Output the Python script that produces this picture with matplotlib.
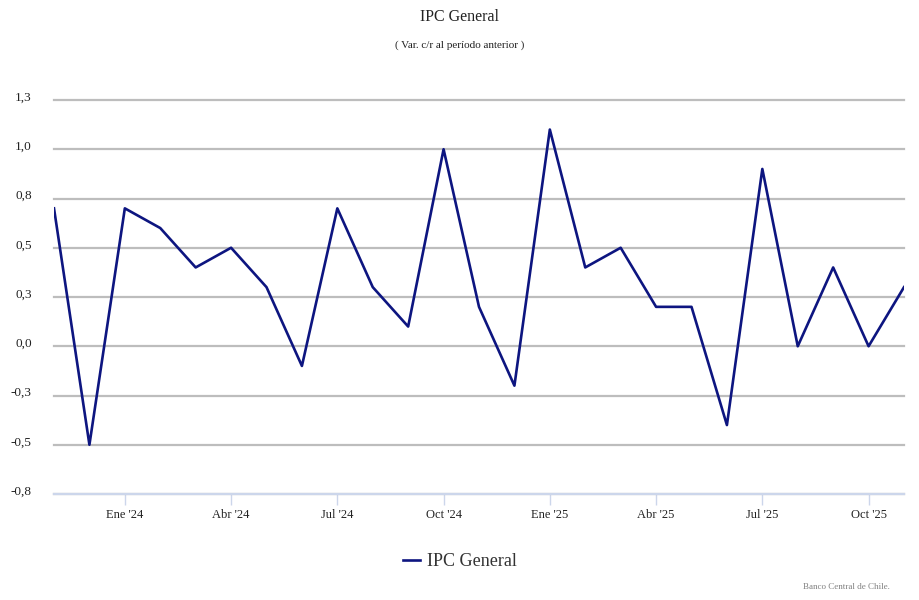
from decimal import Decimal, ROUND_HALF_UP

import matplotlib
import numpy as np
from matplotlib import pyplot as plt
import matplotlib.transforms as mtransforms

matplotlib.use("Agg")

# Monthly CPI variation, Nov 2023 .. Nov 2025
months = [
    "Nov 23", "Dic 23", "Ene 24", "Feb 24", "Mar 24", "Abr 24", "May 24",
    "Jun 24", "Jul 24", "Ago 24", "Sep 24", "Oct 24", "Nov 24", "Dic 24",
    "Ene 25", "Feb 25", "Mar 25", "Abr 25", "May 25", "Jun 25", "Jul 25",
    "Ago 25", "Sep 25", "Oct 25", "Nov 25",
]
ipc = [
    0.7, -0.5, 0.7, 0.6, 0.4, 0.5, 0.3,
    -0.1, 0.7, 0.3, 0.1, 1.0, 0.2, -0.2,
    1.1, 0.4, 0.5, 0.2, 0.2, -0.4, 0.9,
    0.0, 0.4, 0.0, 0.3,
]
tick_idx = [2, 5, 8, 11, 14, 17, 20, 23]
tick_labels = ["Ene '24", "Abr '24", "Jul '24", "Oct '24",
               "Ene '25", "Abr '25", "Jul '25", "Oct '25"]
y_ticks = [-0.75, -0.5, -0.25, 0.0, 0.25, 0.5, 0.75, 1.0, 1.25]


def fmt(v):
    # one decimal, half away from zero, comma separator
    d = Decimal(str(v)).quantize(Decimal("0.1"), rounding=ROUND_HALF_UP)
    return str(d).replace(".", ",")


plt.rcParams["font.family"] = ["Liberation Serif", "DejaVu Serif"]

fig = plt.figure(figsize=(9.2, 6), dpi=100)
ax = fig.add_axes([54 / 920, 106 / 600, 850 / 920, 394 / 600])

x = np.arange(len(ipc))
line, = ax.plot(x, ipc, color="#0d1580", lw=1.9, label="IPC General", zorder=3)

ax.set_xlim(0, len(ipc) - 1)
ax.set_ylim(-0.75, 1.25)
ax.set_yticks(y_ticks)
ax.set_yticklabels([fmt(v) for v in y_ticks], fontsize=9.5, color="#222222")
ax.set_xticks(tick_idx)
ax.set_xticklabels(tick_labels, fontsize=9, color="#222222")

ax.grid(axis="y", color="#bdbdbd", lw=1.6)
for g in ax.get_ygridlines():
    g.set_clip_on(False)
ax.set_axisbelow(True)
for side in ["top", "right", "left"]:
    ax.spines[side].set_visible(False)
ax.spines["bottom"].set_color("#ccd6eb")
ax.spines["bottom"].set_linewidth(1.6)
ax.spines["bottom"].set_zorder(2)
ax.tick_params(axis="y", length=0, pad=16)
ax.tick_params(axis="x", length=8, color="#ccd6eb", width=1, pad=3)
offset = mtransforms.ScaledTranslation(0, 4 / 100, fig.dpi_scale_trans)
for lab in ax.get_yticklabels():
    lab.set_transform(lab.get_transform() + offset)

fig.text(0.5, 1 - 17 / 600, "IPC General", ha="center", va="center",
         fontsize=11.5, color="#222222")
fig.text(0.5, 1 - 45 / 600, "( Var. c/r al período anterior )", ha="center",
         va="center", fontsize=8, color="#222222")

fig.legend(handles=[line], loc="center", bbox_to_anchor=(0.5, 1 - 562 / 600),
           frameon=False, fontsize=13, handlelength=0.9, handletextpad=0.4,
           labelcolor="#333333")
fig.text(890 / 920, 1 - 587 / 600, "Banco Central de Chile.", ha="right",
         va="center", fontsize=6.5, color="#808080")

fig.savefig("out.png", dpi=100)
